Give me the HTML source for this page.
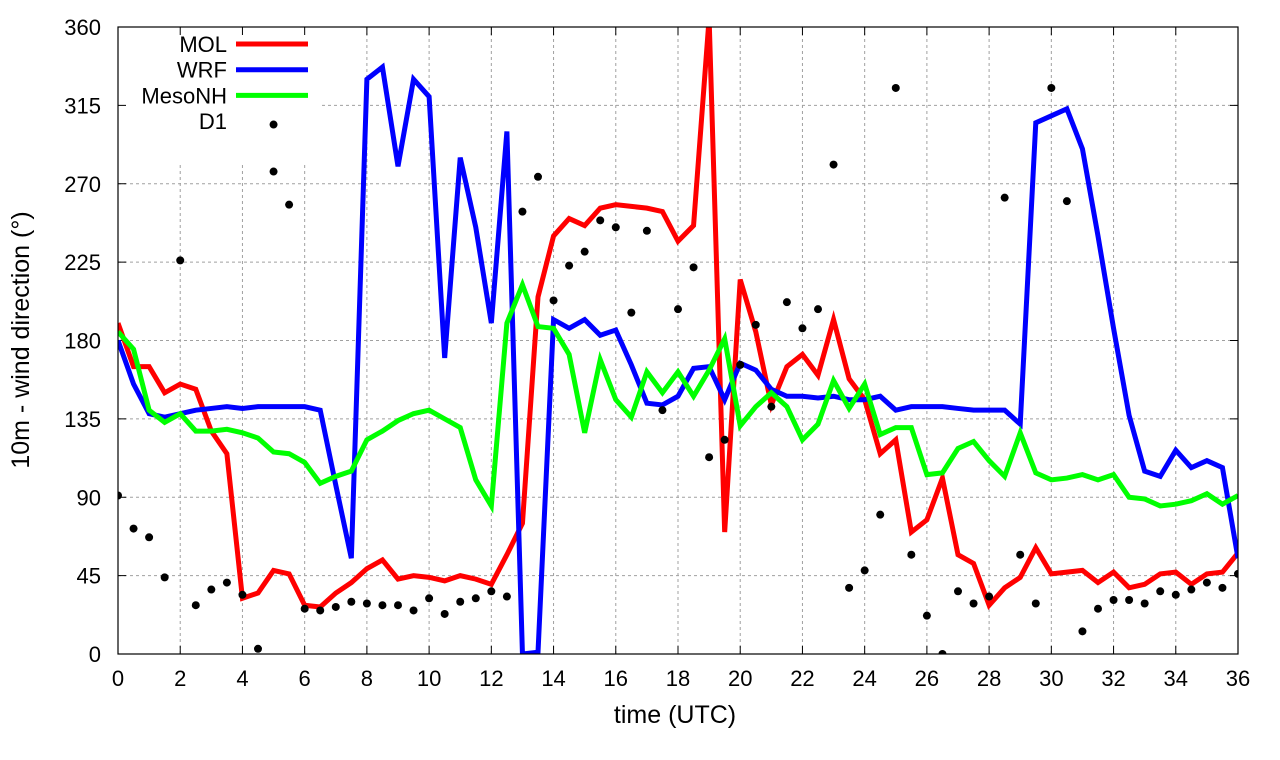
<!DOCTYPE html>
<html><head><meta charset="utf-8"><style>
body{margin:0;background:#fff}
svg{display:block;font-family:"Liberation Sans",sans-serif}
</style></head><body>
<svg id="chart" width="1280" height="760"></svg>
<script>
const times=[];for(let i=0;i<=72;i++)times.push(i*0.5);
const molValues=[190,165,165,150,155,152,128,115,32,35,48,46,28,27,35,41,49,54,43,45,44,42,45,43,40,57,75,205,240,250,246,256,258,257,256,254,237,246,365,70,215,185,143,165,172,160,192,158,146,115,123,70,77,101,57,52,28,38,44,61,46,47,48,41,47,38,40,46,47,40,46,47,58];
const wrfValues=[180,155,138,136,138,140,141,142,141,142,142,142,142,140,97,55,330,337,280,330,320,170,285,245,190,300,0,1,192,187,192,183,186,166,144,143,148,164,165,146,167,163,152,148,148,147,148,146,146,148,140,142,142,142,141,140,140,140,132,305,309,313,290,240,187,137,105,102,117,107,111,107,55];
const mesoValues=[185,175,140,133,138,128,128,129,127,124,116,115,110,98,102,105,123,128,134,138,140,135,130,100,85,190,212,188,187,172,127,169,146,136,162,150,162,148,163,181,131,142,150,142,123,132,157,141,155,126,130,130,103,104,118,122,111,102,127,104,100,101,103,100,103,90,89,85,86,88,92,86,91];
const d1Times=[0,0.5,1,1.5,2,2.5,3,3.5,4,4.5,5,5,5.5,6,6.5,7,7.5,8,8.5,9,9.5,10,10.5,11,11.5,12,12.5,13,13.5,14,14.5,15,15.5,16,16.5,17,17.5,18,18.5,19,19.5,20,20.5,21,21.5,22,22.5,23,23.5,24,24.5,25,25.5,26,26.5,27,27.5,28,28.5,29,29.5,30,30.5,31,31.5,32,32.5,33,33.5,34,34.5,35,35.5,36];
const d1Values=[91,72,67,44,226,28,37,41,34,3,304,277,258,26,25,27,30,29,28,28,25,32,23,30,32,36,33,254,274,203,223,231,249,245,196,243,140,198,222,113,123,166,189,142,202,187,198,281,38,48,80,325,57,22,0,36,29,33,262,57,29,325,260,13,26,31,31,29,36,34,37,41,38,46];
const xTicks=[0,2,4,6,8,10,12,14,16,18,20,22,24,26,28,30,32,34,36];
const yTicks=[0,45,90,135,180,225,270,315,360];

const NS="http://www.w3.org/2000/svg";
const svg=document.getElementById('chart');
const L=118,R=1238,T=27,B=654;
const xs=t=>L+(t/36)*(R-L);
const ys=v=>B-(v/360)*(B-T);
function mk(tag,attrs,parent){const e=document.createElementNS(NS,tag);for(const k in attrs)e.setAttribute(k,attrs[k]);(parent||svg).appendChild(e);return e;}
const defs=mk('defs',{});
const cp=mk('clipPath',{id:'clip'},defs);mk('rect',{x:L,y:T,width:R-L,height:B-T},cp);

const grid=mk('g',{stroke:'#a0a0a0','stroke-width':1,'stroke-dasharray':'3,3'});


xTicks.forEach(t=>{if(t>0&&t<36)mk('line',{x1:xs(t),x2:xs(t),y1:T,y2:B},grid);});
yTicks.forEach(v=>{if(v>0&&v<360)mk('line',{x1:L,x2:R,y1:ys(v),y2:ys(v)},grid);});
const lbg=mk('rect',{x:L+1,y:T+1,width:203,height:137,fill:'#fff'});



const ax=mk('g',{'font-size':22,fill:'#000'});


xTicks.forEach(t=>{
  mk('line',{x1:xs(t),x2:xs(t),y1:B,y2:B-8,stroke:'#000'},ax);
  mk('line',{x1:xs(t),x2:xs(t),y1:T,y2:T+8,stroke:'#000'},ax);
  const tx=mk('text',{x:xs(t),y:B+32,'text-anchor':'middle'},ax);tx.textContent=t;
  
  
});
yTicks.forEach(v=>{
  mk('line',{x1:L,x2:L+8,y1:ys(v),y2:ys(v),stroke:'#000'},ax);
  mk('line',{x1:R,x2:R-8,y1:ys(v),y2:ys(v),stroke:'#000'},ax);
  const tx=mk('text',{x:101,y:ys(v)+8,'text-anchor':'end'},ax);tx.textContent=v;
  
  
});
const xt=mk('text',{x:675,y:723,'text-anchor':'middle','font-size':25},ax);xt.textContent='time (UTC)';


const yt=mk('text',{x:0,y:0,'text-anchor':'middle','font-size':25,transform:'translate(29,340) rotate(-90)'},ax);yt.textContent='10m - wind direction (°)';



const plot=mk('g',{'clip-path':'url(#clip)'});
function series(vals,color,name){
  const p=mk('polyline',{points:vals.map((v,i)=>xs(times[i])+','+ys(v)).join(' '),fill:'none',stroke:color,'stroke-width':5,'stroke-linejoin':'miter'},plot);
  
  
}
series(molValues,'#ff0000','mol-line');
series(wrfValues,'#0000ff','wrf-line');
series(mesoValues,'#00ff00','mesonh-line');
d1Values.forEach((v,i)=>{
  const c=mk('circle',{cx:xs(d1Times[i]),cy:ys(v),r:4,fill:'#000'},plot);
  
  
});
const frame=mk('rect',{x:L,y:T,width:R-L,height:B-T,fill:'none',stroke:'#000','stroke-width':1.2});



const leg=[['MOL','#ff0000'],['WRF','#0000ff'],['MesoNH','#00ff00'],['D1',null]];
leg.forEach((e,i)=>{
  const y=44+i*25.7;
  const g=mk('g',{});
  
  
  const tx=mk('text',{x:227,y:y+8,'text-anchor':'end','font-size':22},g);tx.textContent=e[0];
  if(e[1])mk('line',{x1:236,x2:308,y1:y,y2:y,stroke:e[1],'stroke-width':5},g);
});
</script>
</body></html>
